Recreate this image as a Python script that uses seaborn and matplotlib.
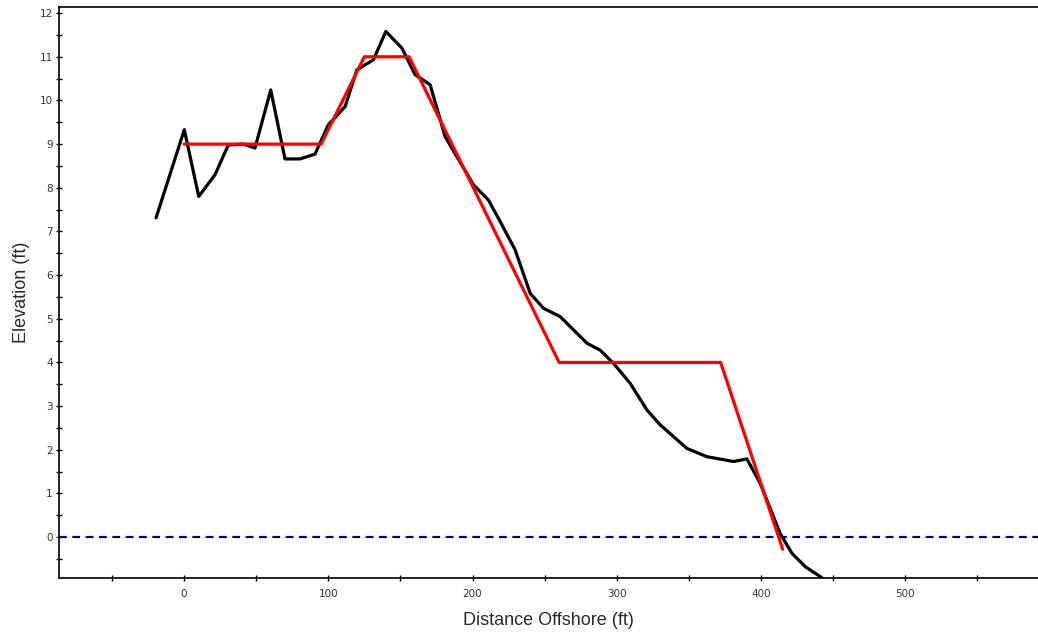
import matplotlib
matplotlib.use("Agg")
import matplotlib.pyplot as plt
from matplotlib.ticker import MultipleLocator
import seaborn as sns
import pandas as pd

# Measured profile (black)
profile_x = [-19.4, 0.2, 10.2, 21.5, 30.7, 41.1, 49.2, 60.1, 70.0, 80.4, 90.8, 100.0,
             111.7, 119.8, 131.3, 139.9, 151.0, 160.2, 170.6, 181.0, 200.6, 211.0,
             219.1, 229.5, 240.0, 249.2, 260.7, 279.3, 288.5, 297.7, 309.3, 320.9,
             330.1, 348.6, 362.5, 380.9, 390.2, 399.4, 413.3, 421.4, 430.7, 442.2]
profile_y = [7.31, 9.33, 7.80, 8.30, 8.98, 9.00, 8.91, 10.24, 8.66, 8.66, 8.77, 9.44,
             9.86, 10.70, 10.93, 11.58, 11.20, 10.59, 10.36, 9.17, 8.07, 7.72,
             7.23, 6.58, 5.58, 5.24, 5.05, 4.44, 4.28, 3.98, 3.52, 2.91,
             2.57, 2.03, 1.84, 1.73, 1.79, 1.23, 0.08, -0.37, -0.68, -0.93]

# Design template (red)
design_x = [0, 95, 125, 156, 260, 372, 415]
design_y = [9, 9, 11, 11, 4, 4, -0.28]

# Datum
datum_y = 0

sns.set_theme(style="white")
plt.rcParams["font.family"] = ["DejaVu Sans"]

fig = plt.figure(figsize=(10.38, 6.41), dpi=100)
ax = fig.add_axes([0.0568, 0.0988, 0.9432, 0.8903])

prof = pd.DataFrame({"x": profile_x, "y": profile_y})
des = pd.DataFrame({"x": design_x, "y": design_y})

ax.axhline(datum_y, color="#000080", lw=1.6, ls=(0, (3.5, 2.5)), zorder=1)
sns.lineplot(data=prof, x="x", y="y", sort=False, estimator=None, color="black",
             lw=2.3, ax=ax, zorder=2)
sns.lineplot(data=des, x="x", y="y", sort=False, estimator=None, color="#ff0000",
             lw=2.3, ax=ax, zorder=3)

ax.set_xlim(-86.7, 592)
ax.set_ylim(-0.93, 12.14)

ax.xaxis.set_major_locator(MultipleLocator(100))
ax.xaxis.set_minor_locator(MultipleLocator(50))
ax.yaxis.set_major_locator(MultipleLocator(1))
ax.yaxis.set_minor_locator(MultipleLocator(0.5))

ax.tick_params(which="both", direction="inout", length=5, width=1, color="black",
               labelsize=7.5, labelcolor="#333333", bottom=True, left=True)
ax.tick_params(axis="x", pad=6)
ax.tick_params(axis="y", pad=2)

for s in ["left", "bottom", "top"]:
    ax.spines[s].set_color("black")
    ax.spines[s].set_linewidth(1.2)
ax.spines["right"].set_visible(False)

ax.set_xlabel("Distance Offshore (ft)", fontsize=13, color="#2a2a2a",
              family=["Liberation Sans"], labelpad=9)
ax.set_ylabel("Elevation (ft)", fontsize=13, color="#2a2a2a",
              family=["Liberation Sans"], labelpad=7)

fig.savefig("out.png", dpi=100)
